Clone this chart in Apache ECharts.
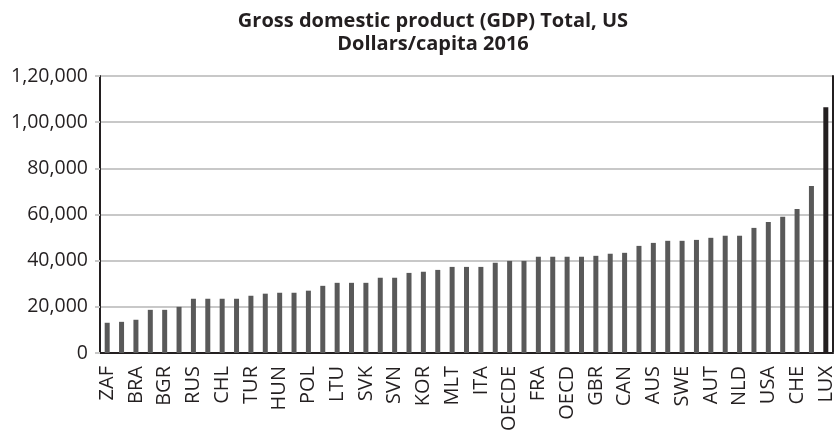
<!DOCTYPE html>
<html>
<head>
<meta charset="utf-8">
<script src="https://cdn.jsdelivr.net/npm/echarts@6/dist/echarts.min.js"></script>
<style>
    html, body { margin: 0; padding: 0; background: #fff; }
    #main { width: 834px; height: 430px; }
</style>
</head>
<body>
<div id="main"></div>
<script>
// countries, only every other one is labelled in the source picture
var countries = [
    'ZAF', '', 'BRA', '', 'BGR', '', 'RUS', '', 'CHL', '', 'TUR', '', 'HUN', '',
    'POL', '', 'LTU', '', 'SVK', '', 'SVN', '', 'KOR', '', 'MLT', '', 'ITA', '',
    'OECDE', '', 'FRA', '', 'OECD', '', 'GBR', '', 'CAN', '', 'AUS', '', 'SWE', '',
    'AUT', '', 'NLD', '', 'USA', '', 'CHE', '', 'LUX'
];

// GDP per capita, US dollars, 2016
var gdpValues = [
    13100, 13500, 14400, 18700, 18700, 20000, 23500, 23500, 23500, 23500,
    24800, 25700, 26100, 26100, 27000, 29100, 30400, 30400, 30400, 32600,
    32600, 34700, 35200, 36000, 37300, 37300, 37300, 39100, 39900, 39900,
    41700, 41700, 41700, 41700, 42100, 43000, 43400, 46400, 47700, 48600,
    48600, 49000, 49900, 50800, 50800, 54200, 56800, 59000, 62400, 72400,
    106500
];

var yTicks = [0, 20000, 40000, 60000, 80000, 100000, 120000];

function indianFormat(v) {
    var s = String(Math.round(v));
    if (s.length <= 3) return s;
    var last3 = s.slice(-3);
    var rest = s.slice(0, -3);
    var parts = [];
    while (rest.length > 2) {
        parts.unshift(rest.slice(-2));
        rest = rest.slice(0, -2);
    }
    if (rest.length) parts.unshift(rest);
    return parts.join(',') + ',' + last3;
}

var barData = gdpValues.map(function (v, i) {
    if (countries[i] === 'LUX') {
        return { value: v, itemStyle: { color: '#231f20' } };
    }
    return v;
});

var myChart = echarts.init(document.getElementById('main'), null, { renderer: 'canvas' });

var option = {
    backgroundColor: '#ffffff',
    animation: false,
    title: {
        text: 'Gross domestic product (GDP) Total, US\nDollars/capita 2016',
        left: 428,
        top: 5,
        textAlign: 'center',
        textStyle: {
            fontFamily: '"Open Sans", sans-serif',
            fontWeight: 'bold',
            fontSize: 20,
            lineHeight: 23,
            color: '#231f20'
        }
    },
    grid: {
        left: 100,
        right: 1,
        top: 76,
        bottom: 77,
        containLabel: false,
        outerBoundsMode: 'none'
    },
    xAxis: [
        {
            type: 'category',
            data: countries,
            axisLine: { lineStyle: { color: '#c8c8c8', width: 2 } },
            axisTick: { show: false },
            axisLabel: {
                interval: 0,
                rotate: 90,
                margin: 13,
                fontFamily: '"Open Sans", sans-serif',
                fontSize: 20,
                color: '#231f20'
            }
        },
        {
            type: 'category',
            position: 'top',
            data: countries,
            axisLine: { lineStyle: { color: '#231f20', width: 2 } },
            axisTick: { show: false },
            axisLabel: { show: false }
        }
    ],
    yAxis: [
        {
            type: 'value',
            min: yTicks[0],
            max: yTicks[yTicks.length - 1],
            interval: 20000,
            axisLine: { show: true, lineStyle: { color: '#231f20', width: 2 } },
            axisTick: { show: true, length: 5, lineStyle: { color: '#c8c8c8', width: 2 } },
            splitLine: { lineStyle: { color: '#c8c8c8', width: 2 } },
            axisLabel: {
                margin: 12,
                fontFamily: '"Open Sans", sans-serif',
                fontSize: 19.5,
                color: '#231f20',
                formatter: indianFormat
            }
        },
        {
            type: 'value',
            position: 'right',
            min: yTicks[0],
            max: yTicks[yTicks.length - 1],
            interval: 20000,
            axisLine: { show: true, lineStyle: { color: '#231f20', width: 2 } },
            axisTick: { show: false },
            axisLabel: { show: false },
            splitLine: { show: false }
        }
    ],
    series: [
        {
            name: 'GDP per capita',
            type: 'bar',
            xAxisIndex: 0,
            yAxisIndex: 0,
            barWidth: 5,
            itemStyle: { color: '#595959' },
            data: barData
        }
    ]
};
myChart.setOption(option);
</script>
</body>
</html>
